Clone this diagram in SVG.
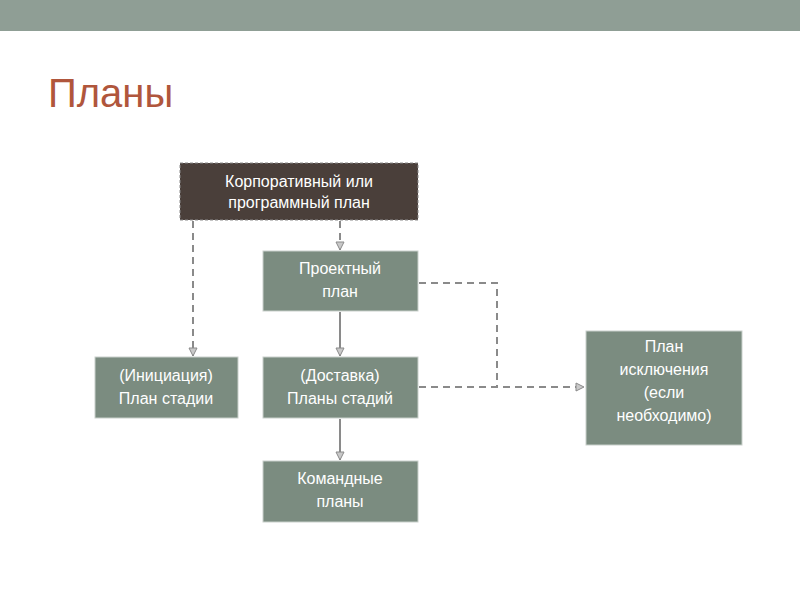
<svg xmlns="http://www.w3.org/2000/svg" width="800" height="600" viewBox="0 0 800 600">
<style>
.b{fill:#7b8c80;stroke:#c9d0cb;stroke-width:1}
.t{font-family:"Liberation Sans",Arial,sans-serif;font-size:16px;fill:#fff;text-anchor:middle}
.c{fill:none;stroke:#8a8a8a;stroke-width:2}
.d{stroke-dasharray:7,5}
</style>
<defs>
<marker id="a" markerWidth="10" markerHeight="10" refX="9" refY="5" orient="auto" markerUnits="userSpaceOnUse">
<path d="M1,1 L9,5 L1,9 Z" fill="#c9c9c9" stroke="#8a8a8a" stroke-width="1"/>
</marker>
</defs>
<rect width="800" height="600" fill="#fff"/>
<rect width="800" height="31" fill="#8f9e95"/>
<text x="48" y="107" font-family="'Liberation Sans',Arial,sans-serif" font-size="40" fill="#b0563c">Планы</text>
<g id="connectors">
<path class="c d" d="M193,221 V356" marker-end="url(#a)"/>
<path class="c d" d="M340,221 V250" marker-end="url(#a)"/>
<path class="c" d="M340,312 V356" marker-end="url(#a)"/>
<path class="c" d="M340,419 V460" marker-end="url(#a)"/>
<path class="c d" d="M419,283 H497 V387"/>
<path class="c d" d="M419,387 H584" marker-end="url(#a)"/>
</g>
<g id="corp"><rect x="180" y="163" width="238" height="57" fill="#4a3f3a" stroke="#8a8a8a" stroke-dasharray="3,2"/>
<text class="t" x="299" y="187">Корпоративный или</text><text class="t" x="299" y="208">программный план</text></g>
<g id="project"><rect class="b" x="263" y="251" width="155" height="60"/>
<text class="t" x="340" y="274">Проектный</text><text class="t" x="340" y="297">план</text></g>
<g id="init"><rect class="b" x="95" y="357" width="143" height="61"/>
<text class="t" x="166" y="381">(Инициация)</text><text class="t" x="166" y="404">План стадии</text></g>
<g id="delivery"><rect class="b" x="263" y="357" width="155" height="61"/>
<text class="t" x="340" y="381">(Доставка)</text><text class="t" x="340" y="404">Планы стадий</text></g>
<g id="team"><rect class="b" x="263" y="461" width="155" height="61"/>
<text class="t" x="340" y="484">Командные</text><text class="t" x="340" y="507">планы</text></g>
<g id="exception"><rect class="b" x="586" y="331" width="156" height="114"/>
<text class="t" x="664" y="352">План</text><text class="t" x="664" y="375">исключения</text><text class="t" x="664" y="398">(если</text><text class="t" x="664" y="421">необходимо)</text></g>
</svg>
